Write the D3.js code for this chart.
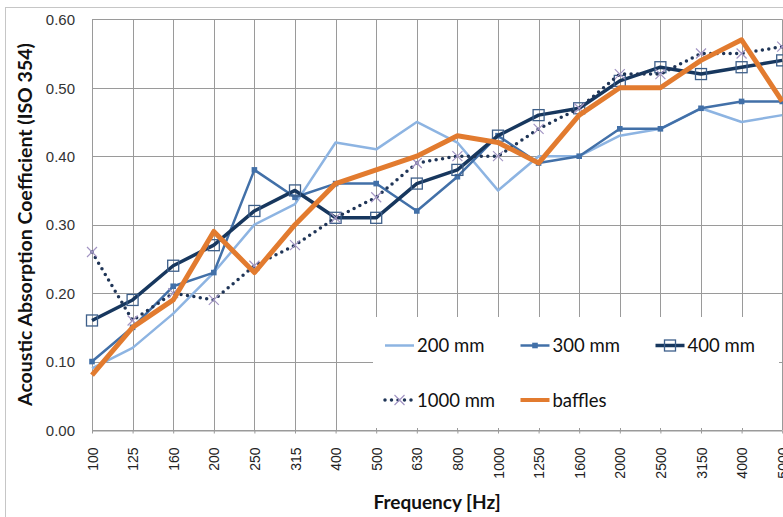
<!DOCTYPE html>
<html>
<head>
<meta charset="utf-8">
<script src="https://cdn.jsdelivr.net/npm/d3@7"></script>
<style>
  body { margin: 0; background: #fff; }
  svg { display: block; font-family: Lato, "Open Sans", sans-serif; }
</style>
</head>
<body>
<div class="chart"></div>
<script>
// Frequency bands (Hz) and absorption coefficient per ceiling height
const frequencies = ["100", "125", "160", "200", "250", "315", "400", "500", "630", "800",
  "1000", "1250", "1600", "2000", "2500", "3150", "4000", "5000"];
const yTicks = [0, 0.1, 0.2, 0.3, 0.4, 0.5, 0.6];

const values200 = [0.09, 0.12, 0.17, 0.23, 0.30, 0.33, 0.42, 0.41, 0.45, 0.42, 0.35, 0.40, 0.40, 0.43, 0.44, 0.47, 0.45, 0.46];
const values300 = [0.10, 0.15, 0.21, 0.23, 0.38, 0.34, 0.36, 0.36, 0.32, 0.37, 0.43, 0.39, 0.40, 0.44, 0.44, 0.47, 0.48, 0.48];
const values400 = [0.16, 0.19, 0.24, 0.27, 0.32, 0.35, 0.31, 0.31, 0.36, 0.38, 0.43, 0.46, 0.47, 0.51, 0.53, 0.52, 0.53, 0.54];
const values1000 = [0.26, 0.16, 0.20, 0.19, 0.24, 0.27, 0.31, 0.34, 0.39, 0.40, 0.40, 0.44, 0.47, 0.52, 0.52, 0.55, 0.55, 0.56];
const valuesBaffles = [0.08, 0.15, 0.19, 0.29, 0.23, 0.30, 0.36, 0.38, 0.40, 0.43, 0.42, 0.39, 0.46, 0.50, 0.50, 0.54, 0.57, 0.48];

const seriesNames = ["200 mm", "300 mm", "400 mm", "1000 mm", "baffles"];

// Line looks for each series
const styles = {
  "200 mm": { color: "#8db4e2", width: 2.5, marker: null },
  "300 mm": { color: "#4270a8", width: 2.5, marker: "diamond" },
  "400 mm": { color: "#17375e", width: 3.5, marker: "square" },
  "1000 mm": { color: "#1f3557", width: 3.5, dash: "0 6.5", marker: "cross" },
  "baffles": { color: "#e27b2f", width: 5, marker: null }
};

const series = [values200, values300, values400, values1000, valuesBaffles]
  .map((vals, i) => ({ name: seriesNames[i], values: vals }));

const width = 783, height = 517;
const margin = { top: 19.3, right: 0.8, bottom: 87, left: 92 };

const svg = d3.select(".chart")
  .append("svg")
  .attr("width", width)
  .attr("height", height);

// chart frame
svg.append("rect")
  .attr("x", 5.5).attr("y", 7.5)
  .attr("width", 820).attr("height", 540)
  .attr("fill", "none")
  .attr("stroke", "#c6c6c6")
  .attr("stroke-width", 1);

const x = d3.scalePoint()
  .domain(frequencies)
  .range([margin.left, width - margin.right]);

const y = d3.scaleLinear()
  .domain([0, 0.6])
  .range([height - margin.bottom, margin.top]);

// Gridlines
const grid = svg.append("g").attr("stroke", "#9a9a9a").attr("stroke-width", 1);
grid.selectAll(".hgrid")
  .data(yTicks)
  .join("line")
  .attr("x1", x.range()[0]).attr("x2", x.range()[1])
  .attr("y1", d => Math.round(y(d)) + 0.5).attr("y2", d => Math.round(y(d)) + 0.5);
grid.selectAll(".vgrid")
  .data(frequencies)
  .join("line")
  .attr("x1", d => Math.round(x(d)) + 0.5).attr("x2", d => Math.round(x(d)) + 0.5)
  .attr("y1", y(0.6)).attr("y2", y(0));

// Axes
const yAxis = svg.append("g")
  .attr("transform", `translate(${margin.left - 14},0)`)
  .call(d3.axisLeft(y).tickValues(yTicks).tickFormat(d3.format(".2f")).tickSize(0))
  .call(g => g.select(".domain").remove());
yAxis.selectAll("text")
  .style("font-size", "15px")
  .attr("fill", "#333")
  .attr("dy", "0.35em");

const xAxis = svg.append("g")
  .attr("transform", `translate(0,${Math.round(y(0)) + 0.5})`)
  .call(d3.axisBottom(x).tickSize(3).tickSizeOuter(0));
xAxis.select(".domain").attr("stroke", "#9a9a9a");
xAxis.selectAll(".tick line").attr("stroke", "#9a9a9a");
xAxis.selectAll("text")
  .style("font-size", "14px")
  .attr("fill", "#222")
  .attr("transform", "rotate(-90)")
  .attr("text-anchor", "end")
  .attr("x", -17)
  .attr("y", 0)
  .attr("dy", "0.36em");

// Axis titles
svg.append("text")
  .attr("x", (x.range()[0] + x.range()[1]) / 2)
  .attr("y", 509)
  .attr("text-anchor", "middle")
  .style("font-size", "19px")
  .style("font-weight", "bold")
  .attr("fill", "#111")
  .text("Frequency [Hz]");

svg.append("text")
  .attr("transform", "translate(32,224.5) rotate(-90)")
  .attr("text-anchor", "middle")
  .style("font-size", "19.5px")
  .style("font-weight", "bold")
  .attr("fill", "#111")
  .text("Acoustic Absorption Coefficient (ISO 354)");

// Lines
const line = d3.line()
  .x((d, i) => x(frequencies[i]))
  .y(d => y(d));

const plot = svg.append("g");

function drawMarkers(g, s, st) {
  const pts = s.values.map((v, i) => [x(frequencies[i]), y(v)]);
  if (st.marker === "diamond") {
    g.selectAll("path.m").data(pts).join("path")
      .attr("class", "m")
      .attr("d", d3.symbol(d3.symbolDiamond2, 40))
      .attr("transform", d => `translate(${d[0]},${d[1]}) rotate(45)`)
      .attr("fill", st.color);
  } else if (st.marker === "square") {
    g.selectAll("rect.m").data(pts).join("rect")
      .attr("class", "m")
      .attr("x", d => d[0] - 5.5).attr("y", d => d[1] - 5.5)
      .attr("width", 11).attr("height", 11)
      .attr("fill", "none")
      .attr("stroke", "#3d5f8a")
      .attr("stroke-width", 1.3);
  } else if (st.marker === "cross") {
    g.selectAll("path.m").data(pts).join("path")
      .attr("class", "m")
      .attr("d", d => `M${d[0] - 5},${d[1] - 5}L${d[0] + 5},${d[1] + 5}M${d[0] - 5},${d[1] + 5}L${d[0] + 5},${d[1] - 5}`)
      .attr("stroke", "#a395c4")
      .attr("stroke-width", 1.2)
      .attr("fill", "none");
  }
}

series.forEach(s => {
  const st = styles[s.name];
  const g = plot.append("g");
  g.append("path")
    .datum(s.values)
    .attr("d", line)
    .attr("fill", "none")
    .attr("stroke", st.color)
    .attr("stroke-width", st.width)
    .attr("stroke-linejoin", "round")
    .attr("stroke-linecap", st.dash ? "round" : "butt")
    .attr("stroke-dasharray", st.dash || null);
  drawMarkers(g, s, st);
});

// Legend
const legendBox = svg.append("g");
legendBox.append("rect")
  .attr("x", 373).attr("y", 317)
  .attr("width", 406).attr("height", 111)
  .attr("fill", "#fff");

const legendPos = [[385, 345.5], [520.5, 345.5], [655.5, 345.5], [385, 400], [520.5, 400]];

const legendItems = legendBox.selectAll("g.item")
  .data(series)
  .join("g")
  .attr("class", "item")
  .attr("transform", (d, i) => `translate(${legendPos[i][0]},${legendPos[i][1]})`);

legendItems.append("line")
  .attr("x1", 0).attr("x2", 29)
  .attr("stroke", d => styles[d.name].color)
  .attr("stroke-width", d => Math.min(styles[d.name].width, 4))
  .attr("stroke-dasharray", d => styles[d.name].dash || null)
  .attr("stroke-linecap", d => styles[d.name].dash ? "round" : "butt");

legendItems.each(function (d) {
  const st = styles[d.name];
  const g = d3.select(this);
  if (st.marker === "diamond") {
    g.append("path").attr("d", d3.symbol(d3.symbolDiamond2, 40)).attr("transform", "translate(14.5,0) rotate(45)").attr("fill", st.color);
  } else if (st.marker === "square") {
    g.append("rect").attr("x", 9).attr("y", -5.5).attr("width", 11).attr("height", 11)
      .attr("fill", "none").attr("stroke", "#3d5f8a").attr("stroke-width", 1.3);
  } else if (st.marker === "cross") {
    g.append("path").attr("d", "M9.5,-5L19.5,5M9.5,5L19.5,-5")
      .attr("stroke", "#a395c4").attr("stroke-width", 1.2);
  }
});

legendItems.append("text")
  .attr("x", 32)
  .attr("dy", "0.36em")
  .style("font-size", "18.5px")
  .attr("fill", "#111")
  .text(d => d.name);
</script>
</body>
</html>
